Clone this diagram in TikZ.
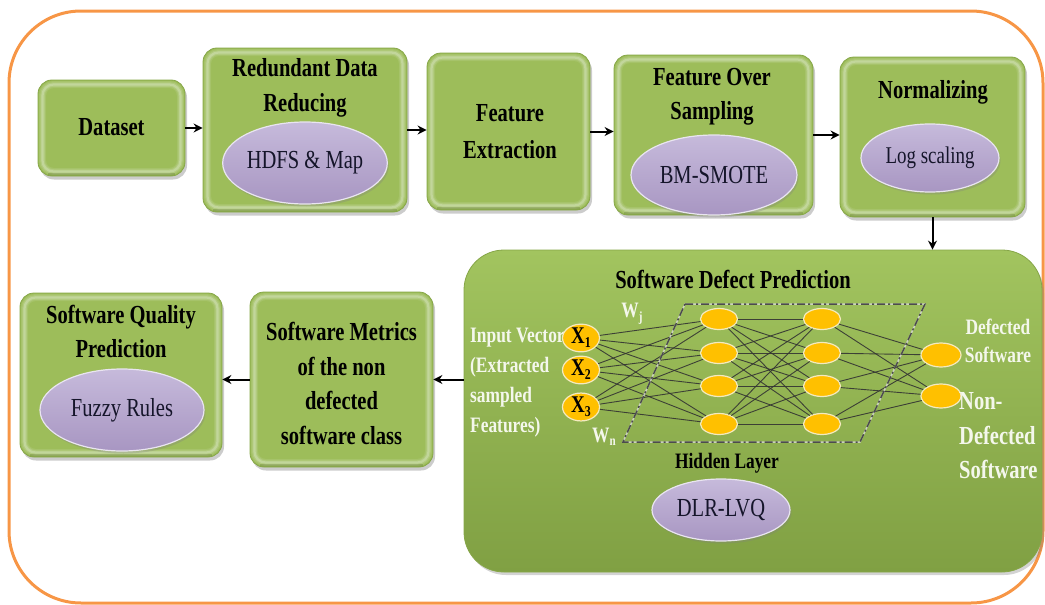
\documentclass[tikz,border=0pt]{standalone}
\usepackage{fontspec}
\setmainfont{Liberation Serif}[FakeStretch=0.79]
\usetikzlibrary{shadows,arrows.meta,shapes.geometric,calc}

\definecolor{frameorange}{HTML}{F79646}
\definecolor{stagegreen}{HTML}{9DBD5A}
\definecolor{stageedge}{HTML}{86A648}
\definecolor{bigtop}{HTML}{A2C45F}
\definecolor{bigbot}{HTML}{80A043}
\definecolor{lavtop}{HTML}{C6BADB}
\definecolor{lavbot}{HTML}{A896C2}
\definecolor{inkdark}{HTML}{15152A}
\definecolor{neuron}{HTML}{FFC000}
\definecolor{neuronrim}{HTML}{F4EABF}
\definecolor{wire}{HTML}{333333}
\definecolor{paletext}{HTML}{F4F7EC}

\tikzset{
  stage/.style={draw=stageedge, line width=0.8pt, fill=stagegreen,
    rounded corners=14pt, inner sep=0pt,
    drop shadow={shadow xshift=2pt, shadow yshift=-3.5pt, opacity=.4},
    path picture={
      \foreach \w/\o in {7pt/.10, 4.5pt/.14, 2.2pt/.22}
        \draw[white, opacity=\o, line width=\w, rounded corners=11pt]
          ([shift={(4.5pt,4.5pt)}]path picture bounding box.south west) rectangle
          ([shift={(-4.5pt,-4.5pt)}]path picture bounding box.north east);
      \draw[black, opacity=.12, line width=3pt]
          ([shift={(10pt,2pt)}]path picture bounding box.south west) --
          ([shift={(-10pt,2pt)}]path picture bounding box.south east);}},
  bigstage/.style={draw=stageedge, line width=0.8pt, top color=bigtop, bottom color=bigbot,
    rounded corners=40pt, inner sep=0pt,
    drop shadow={shadow xshift=2pt, shadow yshift=-3pt, opacity=.35}},
  lav/.style={ellipse, top color=lavtop, bottom color=lavbot, draw=white!75!lavbot,
    line width=1.2pt, inner sep=0pt, text=inkdark,
    font=\fontsize{26}{30}\selectfont,
    drop shadow={shadow xshift=1.5pt, shadow yshift=-2.5pt, opacity=.3}},
  lab/.style={font=\fontsize{26}{34.5}\selectfont\bfseries, align=center,
    inner sep=0pt, text=black},
  smalllab/.style={font=\fontsize{22}{30}\selectfont\bfseries, align=left,
    inner sep=0pt, text=paletext},
  neur/.style={ellipse, fill=neuron, draw=neuronrim, line width=1.2pt,
    minimum width=37pt, minimum height=21pt, inner sep=0pt,
    font=\fontsize{24}{24}\selectfont\bfseries},
  arr/.style={-{Stealth[length=9pt,width=9pt]}, line width=2pt, black},
  wiring/.style={wire, line width=0.9pt, opacity=.9},
  dashbox/.style={line width=1.5pt, black!70, dash pattern=on 8pt off 3pt on 2pt off 3pt},
}

\newcommand{\stagebox}[5]{\node[stage, minimum width=#4pt, minimum height=#5pt] (#1) at (#2,#3) {};}

\begin{document}
\begin{tikzpicture}[x=1pt, y=-1pt]
\useasboundingbox (0,0) rectangle (1045,605);

% outer frame
\draw[frameorange, line width=3pt, rounded corners=72pt] (9,11) rectangle (1043,603);

% pipeline stages
\stagebox{dataset}{111.5}{128}{147}{96}
\stagebox{redundant}{305}{130}{204}{164}
\stagebox{featext}{508.5}{131.5}{163}{157}
\stagebox{oversamp}{713.5}{135}{199}{160}
\stagebox{normal}{932.5}{137}{185}{160}
\stagebox{metrics}{341.5}{379.5}{183}{175}
\stagebox{quality}{121}{375}{202}{164}
\node[bigstage, minimum width=578pt, minimum height=322pt] (sdp) at (753,411) {};

% stage titles
\node[lab] (tdataset) at (111.5,127) {Dataset};
\node[lab] (tredundant) at (305,88) {Redundant Data\\Reducing};
\node[lab, font=\fontsize{26}{36.5}\selectfont\bfseries] (tfeatext) at (510,131.5) {Feature\\Extraction};
\node[lab] (toversamp) at (712,97) {Feature Over\\Sampling};
\node[lab] (tnormal) at (933,92) {Normalizing};
\node[lab] (tmetrics) at (341.5,383.5) {Software Metrics\\of the non\\defected\\software class};
\node[lab] (tquality) at (121,331.5) {Software Quality\\Prediction};
\node[lab] (tsdp) at (733,279) {Software Defect Prediction};

% method ellipses
\node[lav, minimum width=164pt, minimum height=82pt] (hdfs) at (305,163) {HDFS \& Map};
\node[lav, minimum width=166pt, minimum height=80pt] (smote) at (714,175) {BM-SMOTE};
\node[lav, minimum width=138pt, minimum height=68pt] (logsc) at (930,158) {\fontsize{24}{28}\selectfont Log scaling};
\node[lav, minimum width=164pt, minimum height=82pt] (fuzzy) at (122,410) {Fuzzy Rules};
\node[lav, minimum width=138pt, minimum height=62pt] (dlr) at (721,510) {DLR-LVQ};

% flow arrows
\draw[arr] (dataset.east) -- (redundant.west |- dataset.east);
\draw[arr] (redundant.east) -- (featext.west |- redundant.east);
\draw[arr] (featext.east) -- (oversamp.west |- featext.east);
\draw[arr] (oversamp.east) -- (normal.west |- oversamp.east);
\draw[arr] (normal.south) -- (sdp.north -| normal.south);
\draw[arr] (sdp.west |- metrics.east) -- (metrics.east);
\draw[arr] (metrics.west) -- (quality.east |- metrics.west);

% network: neurons
\foreach \i/\y in {1/338, 2/370, 3/407}
  \coordinate (xc\i) at (581,\y);
\foreach \j/\y in {1/319, 2/353, 3/386, 4/424} {
  \node[neur] (a\j) at (719,\y) {};
  \node[neur] (b\j) at (822,\y) {};
}
\node[neur, minimum width=40pt, minimum height=24pt] (o1) at (941,355) {};
\node[neur, minimum width=40pt, minimum height=24pt] (o2) at (941,396) {};

% input side labels
\node[smalllab, anchor=west] (invec) at (470,383) {Input Vector\\(Extracted\\sampled\\Features)};

\foreach \i in {1,2,3}
  \node[neur] (x\i) at (xc\i) {X\raisebox{-0.35ex}{\fontsize{15}{15}\selectfont\i}};

% network: connections
\foreach \i in {1,2,3}
  \foreach \j in {1,2,3,4}
    \draw[wiring] (x\i) -- (a\j);
\foreach \i in {1,2,3,4}
  \foreach \j in {1,2,3,4}
    \draw[wiring] (a\i) -- (b\j);
\foreach \i in {1,2,3,4}
  \foreach \j in {1,2}
    \draw[wiring] (b\i) -- (o\j);

% hidden layer frame
\coordinate (p1) at (685,304);
\coordinate (p2) at (925,304);
\coordinate (p3) at (860,442);
\coordinate (p4) at (623,442);
\draw[line width=1.5pt, black!15, opacity=.8] (p1) -- (p2) -- (p3) -- (p4) -- cycle;
\draw[dashbox] (p1) -- (p2) -- (p3) -- (p4) -- cycle;

% weights and layer labels
\node[font=\fontsize{22}{22}\selectfont\bfseries, text=paletext, inner sep=0pt] (wj) at (632,314)
  {W\raisebox{-0.35ex}{\fontsize{14}{14}\selectfont j}};
\node[font=\fontsize{22}{22}\selectfont\bfseries, text=paletext, inner sep=0pt] (wn) at (604,437)
  {W\raisebox{-0.35ex}{\fontsize{14}{14}\selectfont n}};
\node[font=\fontsize{22}{22}\selectfont\bfseries, inner sep=0pt] (hidden) at (727,463) {Hidden Layer};

% output labels
\node[smalllab, align=center] (outdef) at (998,341) {Defected\\[-2pt]Software};
\node[lab, align=left, anchor=west, text=paletext] (outnon) at (959,436) {Non-\\Defected\\Software};

\end{tikzpicture}
\end{document}
